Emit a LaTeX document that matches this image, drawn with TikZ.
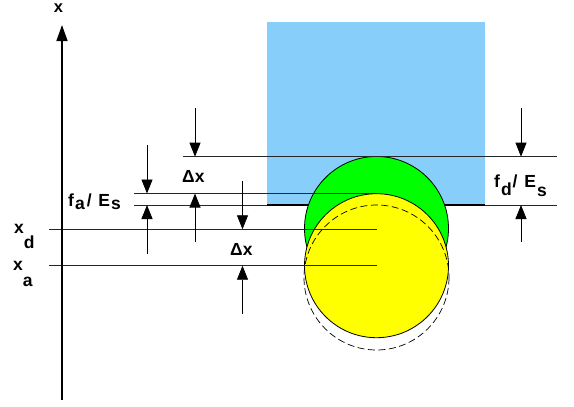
\documentclass[tikz,border=0pt]{standalone}
\usepackage{fontspec}
\setmainfont{Liberation Sans}
\usetikzlibrary{arrows.meta}
\definecolor{skyfill}{RGB}{135,206,250}
\definecolor{ballgreen}{RGB}{0,255,0}
\definecolor{ballyellow}{RGB}{255,255,0}
\newcommand{\sublow}[2][5pt]{\raisebox{-#1}{#2}}
\begin{document}
\begin{tikzpicture}[x=1pt,y=-1pt,
  thinline/.style={line width=0.8pt, draw=black!85},
  dimarrow/.style={line width=0.8pt, draw=black, -{Triangle[length=14pt,width=11pt]}},
  ball/.style={draw=black, line width=0.8pt},
  lbl/.style={font=\fontsize{17.5}{20}\selectfont\bfseries, inner sep=0pt, anchor=base west},
]
\useasboundingbox (0,0) rectangle (574,407);
% punch / block
\fill[skyfill] (267,22) rectangle (485,205);
\draw[line width=2.2pt] (267,205) -- (485,205);
% green ball
\draw[ball, fill=ballgreen] (376.5,228.5) circle[radius=72];
% reference lines
\coordinate (l1a) at (183,156.7); \coordinate (l1b) at (557,156.7);
\coordinate (l2a) at (134,193.5); \coordinate (l2b) at (376.5,193.5);
\coordinate (l3a) at (134,205);   \coordinate (l3b) at (267,205);
\coordinate (l3c) at (485,205);   \coordinate (l3d) at (557,205);
\draw[thinline] (l1a) -- (l1b);
\draw[thinline] (l2a) -- (l2b);
\draw[thinline] (l3a) -- (l3b);
\draw[thinline] (l3c) -- (l3d);
% yellow ball and dashed outline
\draw[ball, fill=ballyellow] (376.5,265.7) circle[radius=72];
\draw[ball, dash pattern=on 7pt off 3.5pt, line width=0.7pt] (376.5,277.5) circle[radius=72.5];
% xd and xa lines
\coordinate (xdA) at (49,229.3); \coordinate (xdB) at (376.5,229.3);
\coordinate (xaA) at (49,265.7); \coordinate (xaB) at (376.5,265.7);
\draw[thinline] (xdA) -- (xdB);
\draw[thinline] (xaA) -- (xaB);
% axis
\coordinate (axb) at (62,400); \coordinate (axt) at (62,25);
\draw[line width=1.5pt, -{Triangle[length=16pt,width=11pt]}] (axb) -- (axt);
% dimension arrows
\coordinate (a1s) at (147,145);   \coordinate (a1e) at (147,193.5);
\coordinate (a2s) at (147,254);   \coordinate (a2e) at (147,205);
\coordinate (b1s) at (195,108);   \coordinate (b1e) at (195,156.7);
\coordinate (b2s) at (195,241.5); \coordinate (b2e) at (195,193.5);
\coordinate (c1s) at (242.5,181); \coordinate (c1e) at (242.5,229.3);
\coordinate (c2s) at (242.5,314); \coordinate (c2e) at (242.5,265.7);
\coordinate (d1s) at (521,108);   \coordinate (d1e) at (521,156.7);
\coordinate (d2s) at (521,241.5); \coordinate (d2e) at (521,205);
\foreach \p in {a1,a2,b1,b2,c1,c2,d1,d2}{\draw[dimarrow] (\p s) -- (\p e);}
% labels
\node[lbl, anchor=base, font=\fontsize{16.5}{20}\selectfont\bfseries] (xlab) at (58.5,12.5) {x};
\node[lbl] (xd) at (14,233) {x\sublow[15pt]{d}};
\node[lbl] (xa) at (13,270) {x\sublow[16pt]{a}};
\node[lbl] (fa) at (68,206) {f\kern1pt\sublow[3.5pt]{a}\kern2pt/\kern2pt\ E\kern1pt\sublow[3.5pt]{s}};
\node[lbl] (fd) at (494,187) {f\kern1pt\sublow[8pt]{d}\kern1pt/\kern2pt\ E\kern1pt\sublow[9pt]{s}};
\node[lbl] (dx1) at (182,182) {Δx};
\node[lbl] (dx2) at (230,255) {Δx};
\end{tikzpicture}
\end{document}
